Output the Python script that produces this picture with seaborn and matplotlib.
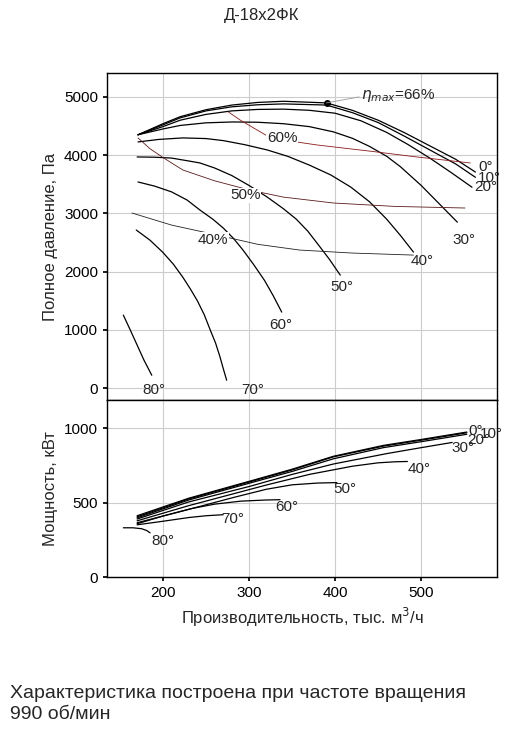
import matplotlib
matplotlib.use("Agg")
import matplotlib.pyplot as plt
import numpy as np
import pandas as pd
import seaborn as sns

# pressure curves, by blade angle: (Q, P)
p_curves = {
    "0°": ([171, 200, 220, 250, 280, 310, 340, 390, 420, 450, 480, 510, 540, 563],
           [4350, 4540, 4660, 4780, 4860, 4905, 4925, 4897, 4770, 4600, 4390, 4160, 3930, 3710]),
    "10°": ([171, 200, 220, 250, 280, 310, 340, 390, 420, 450, 480, 510, 540, 563],
            [4350, 4520, 4640, 4760, 4830, 4865, 4880, 4860, 4730, 4560, 4330, 4090, 3850, 3620]),
    "20°": ([171, 200, 220, 250, 280, 310, 340, 370, 400, 430, 460, 485, 510, 535, 559],
            [4350, 4490, 4600, 4700, 4760, 4785, 4790, 4770, 4720, 4590, 4390, 4180, 3950, 3700, 3450]),
    "30°": ([171, 200, 220, 250, 281, 310, 340, 370, 398, 420, 440, 460, 476, 500, 520, 542],
            [4350, 4450, 4510, 4555, 4570, 4565, 4540, 4490, 4400, 4290, 4150, 3980, 3800, 3480, 3180, 2850]),
    "40°": ([171, 195, 223, 250, 270, 295, 321, 345, 370, 395, 418, 440, 460, 476, 491],
            [4227, 4270, 4296, 4285, 4250, 4180, 4090, 3980, 3830, 3660, 3454, 3200, 2900, 2620, 2337]),
    "50°": ([170, 190, 210, 230, 243, 260, 280, 300, 321, 340, 355, 368, 379, 393, 406],
            [3969, 3965, 3950, 3900, 3866, 3780, 3650, 3480, 3282, 3080, 2900, 2700, 2491, 2220, 1941]),
    "60°": ([171, 190, 210, 228, 243, 258, 270, 282, 293, 305, 318, 328, 338],
            [3540, 3470, 3370, 3230, 3058, 2900, 2750, 2570, 2371, 2130, 1850, 1590, 1306]),
    "70°": ([169, 185, 200, 212, 223, 232, 240, 248, 255, 261, 266, 270, 274],
            [2715, 2540, 2330, 2130, 1907, 1700, 1500, 1260, 997, 780, 550, 340, 137]),
    "80°": ([154, 162, 170, 178, 187], [1254, 1000, 740, 480, 223]),
}
p_label_pos = {"0°": (566, 3800), "10°": (566, 3600), "20°": (562, 3450), "30°": (536, 2550),
               "40°": (488, 2180), "50°": (395, 1740), "60°": (323, 1080), "70°": (291, -30), "80°": (176, -30)}

# efficiency iso-lines
eff_curves = {
    "60%": ([276, 290, 305, 320, 340, 379, 440, 495, 557], [4742, 4600, 4470, 4340, 4260, 4175, 4070, 3969, 3866]),
    "50%": ([171, 185, 200, 223, 260, 301, 340, 398, 470, 551], [4296, 4110, 3960, 3746, 3560, 3400, 3280, 3179, 3120, 3093]),
    "40%": ([164, 210, 263, 310, 359, 420, 491], [3007, 2800, 2629, 2470, 2371, 2320, 2285]),
}
eff_label_pos = {"60%": (321, 4300), "50%": (278, 3310), "40%": (240, 2550)}
eta_point = (390, 4897)

# power curves: (Q, N)
n_curves = {
    "0°": ([170, 230, 301, 350, 398, 456, 500, 553], [412, 530, 645, 725, 812, 885, 925, 975]),
    "10°": ([170, 230, 301, 350, 398, 456, 500, 553], [405, 525, 640, 720, 808, 880, 920, 970]),
    "20°": ([170, 230, 301, 350, 398, 456, 500, 553], [398, 518, 632, 710, 795, 870, 910, 960]),
    "30°": ([170, 230, 301, 350, 398, 460, 500, 536], [390, 505, 610, 690, 760, 830, 870, 905]),
    "40°": ([170, 230, 321, 370, 420, 450, 470, 484], [378, 480, 620, 690, 745, 768, 775, 777]),
    "50°": ([170, 230, 282, 320, 350, 380, 402], [365, 455, 535, 590, 620, 632, 635]),
    "60°": ([170, 200, 233, 260, 290, 320, 336], [358, 410, 460, 490, 510, 518, 520]),
    "70°": ([170, 200, 230, 250, 270], [351, 375, 400, 412, 419]),
    "80°": ([154, 165, 175, 181, 185], [331, 331, 325, 313, 297]),
}
n_label_pos = {"0°": (555, 980), "10°": (568, 960), "20°": (553, 920), "30°": (535, 870),
               "40°": (484, 725), "50°": (398, 590), "60°": (330, 470), "70°": (268, 390), "80°": (186, 240)}

sns.set_theme(style="whitegrid")
plt.rcParams["font.family"] = ["Liberation Sans", "DejaVu Sans"]

fig = plt.figure(figsize=(5.22, 7.29), dpi=100)
ax1 = fig.add_axes([0.205, 0.451, 0.747, 0.449])
ax2 = fig.add_axes([0.205, 0.2085, 0.747, 0.2425], sharex=ax1)

for ax in (ax1, ax2):
    ax.grid(True, color="#cccccc", linewidth=0.8)
    for s in ax.spines.values():
        s.set_color("black")
        s.set_linewidth(1.0)
    ax.tick_params(labelsize=11, colors="black", length=3, left=True, bottom=True)

for name, (q, p) in p_curves.items():
    sns.lineplot(x=q, y=p, ax=ax1, color="black", linewidth=0.9, sort=False)
    ax1.text(*p_label_pos[name], name, fontsize=11, ha="left", va="center")

eff_colors = {"60%": "#8b1a1a", "50%": "#5a1a1a", "40%": "#222222"}
for name, (q, p) in eff_curves.items():
    sns.lineplot(x=q, y=p, ax=ax1, color=eff_colors[name], linewidth=0.6, sort=False)
    ax1.text(*eff_label_pos[name], name, fontsize=11, ha="left", va="center",
             bbox=dict(facecolor="white", edgecolor="none", pad=0.5))

ax1.plot(*eta_point, "o", color="black", markersize=4)
ax1.plot([eta_point[0], 428], [eta_point[1], 5000], color="#999999", linewidth=0.6)
ax1.text(430, 5020, r"$\eta_{max}$=66%", fontsize=11, ha="left", va="center")

for name, (q, n) in n_curves.items():
    sns.lineplot(x=q, y=n, ax=ax2, color="black", linewidth=0.9, sort=False)
    ax2.text(*n_label_pos[name], name, fontsize=11, ha="left", va="center")

ax1.set_xlim(135, 588)
ax1.set_ylim(-206, 5412)
ax1.set_yticks([0, 1000, 2000, 3000, 4000, 5000])
ax1.tick_params(labelbottom=False)
ax1.set_ylabel("Полное давление, Па", fontsize=12)

ax2.set_ylim(0, 1189)
ax2.set_yticks([0, 500, 1000])
ax2.set_xticks([200, 300, 400, 500])
ax2.set_ylabel("Мощность, кВт", fontsize=12)
ax2.set_xlabel("Производительность, тыс. м$^3$/ч", fontsize=12)

fig.text(0.502, 0.979, "Д-18х2ФК", fontsize=12, ha="center", va="center")
fig.text(0.019, 0.034, "Характеристика построена при частоте вращения\n990 об/мин",
         fontsize=14, ha="left", va="center", linespacing=1.3)

fig.savefig("out.png", dpi=100)
